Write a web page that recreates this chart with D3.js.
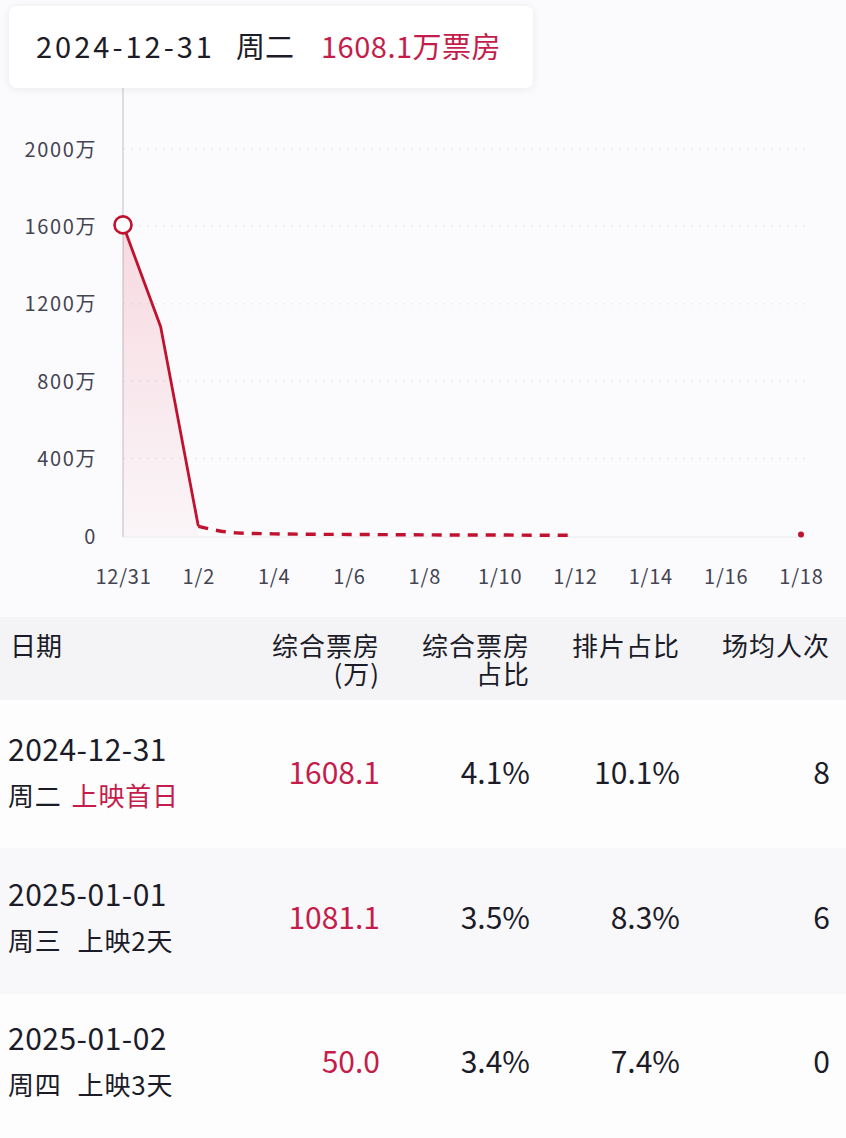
<!DOCTYPE html>
<html><head><meta charset="utf-8">
<script src="https://cdn.jsdelivr.net/npm/d3@7"></script>
<style>
html,body{margin:0;padding:0;background:#fbfbfd;}
svg{display:block;font-family:"Noto Sans CJK SC","Noto Sans",sans-serif;}
</style></head><body>
<div id="chart"></div>
<script>
// ---- data ----
const solidDates = ["2024-12-31","2025-01-01","2025-01-02"];
const solidValues = [1608.1, 1081.1, 50.0];
const dashedDates = ["2025-01-02","2025-01-03","2025-01-04","2025-01-05","2025-01-06","2025-01-07","2025-01-08","2025-01-09","2025-01-10","2025-01-11","2025-01-12"];
const dashedValues = [50.0, 16, 11, 9, 8, 7, 6, 5, 5, 4, 4];
const lastDates = ["2025-01-18"];
const lastValues = [8];
const yTicks = [0, 400, 800, 1200, 1600, 2000];
const xTickDates = ["2024-12-31","2025-01-02","2025-01-04","2025-01-06","2025-01-08","2025-01-10","2025-01-12","2025-01-14","2025-01-16","2025-01-18"];
const xTickLabels = ["12/31","1/2","1/4","1/6","1/8","1/10","1/12","1/14","1/16","1/18"];

const headerDate = "2024-12-31";
const headerWeekday = "周二";
const headerValue = "1608.1万票房";

const colHeaders1 = ["日期","综合票房","综合票房","排片占比","场均人次"];
const colHeaders2 = ["","(万)","占比","",""];
const rowDates = ["2024-12-31","2025-01-01","2025-01-02"];
const rowWeekdays = ["周二","周三","周四"];
const rowRelease = ["上映首日","上映2天","上映3天"];
const rowBox = ["1608.1","1081.1","50.0"];
const rowBoxShare = ["4.1%","3.5%","3.4%"];
const rowSchedShare = ["10.1%","8.3%","7.4%"];
const rowAvg = ["8","6","0"];

// ---- setup ----
const W = 846, H = 1138;
const RED = "#c0122f", RED_TEXT = "#c41d4b", TXT = "#1c1c28";
const parse = d3.timeParse("%Y-%m-%d");
const svg = d3.select("#chart").append("svg").attr("width", W).attr("height", H);
const defs = svg.append("defs");
const grad = defs.append("linearGradient").attr("id","ag").attr("x1",0).attr("y1",0).attr("x2",0).attr("y2",1);
grad.append("stop").attr("offset","0%").attr("stop-color","#e4415e").attr("stop-opacity",0.18);
grad.append("stop").attr("offset","100%").attr("stop-color","#e4415e").attr("stop-opacity",0.03);
const sh = defs.append("filter").attr("id","sh").attr("x","-10%").attr("y","-30%").attr("width","120%").attr("height","160%");
sh.append("feDropShadow").attr("dx",0).attr("dy",1).attr("stdDeviation",4).attr("flood-color","#000").attr("flood-opacity",0.07);

svg.append("rect").attr("width",W).attr("height",H).attr("fill","#fbfbfd");

const x = d3.scaleTime().domain([parse("2024-12-31"), parse("2025-01-18")]).range([123, 801]);
const y = d3.scaleLinear().domain([0, 2000]).range([536, 149]);

// gridlines
svg.append("g").selectAll("line").data(yTicks.filter(d=>d>0)).join("line")
  .attr("x1",123).attr("x2",805).attr("y1",d=>y(d)).attr("y2",d=>y(d))
  .attr("stroke","#e6e6ec").attr("stroke-width",1).attr("stroke-dasharray","2,6");
// baseline
svg.append("line").attr("x1",123).attr("x2",805).attr("y1",y(0)+1).attr("y2",y(0)+1).attr("stroke","#ececf1");
// y axis line
svg.append("line").attr("x1",123).attr("x2",123).attr("y1",86).attr("y2",y(0)+1).attr("stroke","#c9c9d0").attr("stroke-width",1.2);

// y ticks
const yAxis = d3.axisLeft(y).tickValues(yTicks).tickSize(0).tickPadding(0).tickFormat(d => d===0 ? "0" : d + "万");
const ya = svg.append("g").attr("transform","translate(97,0)").call(yAxis);
ya.select(".domain").remove();
ya.selectAll("text").attr("font-size",20).attr("letter-spacing",1.6).attr("fill","#444452").attr("font-family","'Noto Sans CJK SC',sans-serif").attr("dy","0.35em");

// x ticks
const xAxis = d3.axisBottom(x).tickValues(xTickDates.map(parse)).tickSize(0).tickPadding(0)
  .tickFormat((d,i) => xTickLabels[i]);
const xa = svg.append("g").attr("transform","translate(0,577)").call(xAxis);
xa.select(".domain").remove();
xa.selectAll("text").attr("font-size",20).attr("letter-spacing",0.8).attr("fill","#444452").attr("dy","0.35em").attr("font-family","'Noto Sans CJK SC',sans-serif");

// area + lines
const solid = solidDates.map((d,i)=>({d:parse(d), v:solidValues[i]}));
const dashed = dashedDates.map((d,i)=>({d:parse(d), v:dashedValues[i]}));
const last = lastDates.map((d,i)=>({d:parse(d), v:lastValues[i]}));
const area = d3.area().x(p=>x(p.d)).y0(y(0)).y1(p=>y(p.v));
const line = d3.line().x(p=>x(p.d)).y(p=>y(p.v));
svg.append("path").datum(solid).attr("d",area).attr("fill","url(#ag)");
svg.append("path").datum(solid).attr("d",line).attr("fill","none").attr("stroke",RED).attr("stroke-width",2.8).attr("stroke-linejoin","round");
svg.append("path").datum(dashed).attr("d",d3.line().curve(d3.curveMonotoneX).x(p=>x(p.d)).y(p=>y(p.v)))
  .attr("fill","none").attr("stroke",RED).attr("stroke-width",3.4).attr("stroke-dasharray","10,8");
svg.append("g").selectAll("circle").data(last).join("circle")
  .attr("cx",p=>x(p.d)).attr("cy",p=>y(p.v)).attr("r",3).attr("fill",RED);
svg.append("circle").attr("cx",x(solid[0].d)).attr("cy",y(solid[0].v)).attr("r",8.5)
  .attr("fill","#fff").attr("stroke",RED).attr("stroke-width",2.6);

// header card
svg.append("rect").attr("x",9).attr("y",6).attr("width",524).attr("height",82).attr("rx",8)
  .attr("fill","#fff").attr("filter","url(#sh)");
const ht = svg.append("text").attr("x",36).attr("y",58).attr("font-size",29).attr("fill",TXT);
ht.append("tspan").text(headerDate).attr("letter-spacing",3);
ht.append("tspan").attr("x",236).text(headerWeekday);
ht.append("tspan").attr("x",321).attr("fill",RED_TEXT).attr("letter-spacing",0.5).text(headerValue);

// table
const colRight = [null, 380, 530, 680, 830];
svg.append("rect").attr("x",0).attr("y",617).attr("width",W).attr("height",83).attr("fill","#f4f4f7");
const rowY = [700, 848, 994];
const rowH = [148, 146, 144];
const rowFill = ["#fdfdfe","#f8f8fa","#fdfdfe"];
rowY.forEach((ry,i)=>svg.append("rect").attr("x",0).attr("y",ry).attr("width",W).attr("height",rowH[i]).attr("fill",rowFill[i]));

const hg = svg.append("g").attr("font-size",26).attr("fill",TXT);
colHeaders1.forEach((t,i)=>{
  const tx = hg.append("text").attr("x", i===0?10:colRight[i]).attr("y",656).attr("text-anchor", i===0?"start":"end").attr("letter-spacing", i===0?0:1);
  tx.append("tspan").text(t);
  if (colHeaders2[i]) tx.append("tspan").attr("x", colRight[i]).attr("dy",28).text(colHeaders2[i]);
});

const rowMid = [773, 918, 1062];
rowDates.forEach((d,i)=>{
  const g = svg.append("g").attr("fill",TXT);
  g.append("text").attr("x",8).attr("y",rowMid[i]-12).attr("font-size",30).attr("letter-spacing",0.5).text(d);
  const s = g.append("text").attr("x",8).attr("y",rowMid[i]+33).attr("font-size",26).attr("letter-spacing",0.8);
  s.append("tspan").text(rowWeekdays[i]);
  s.append("tspan").attr("dx", i===0?10:16).attr("fill", i===0?RED_TEXT:TXT).text(rowRelease[i]);
  g.append("text").attr("x",380).attr("y",rowMid[i]+11).attr("text-anchor","end").attr("font-size",30).attr("fill",RED_TEXT).text(rowBox[i]);
  g.append("text").attr("x",530).attr("y",rowMid[i]+11).attr("text-anchor","end").attr("font-size",30).text(rowBoxShare[i]);
  g.append("text").attr("x",680).attr("y",rowMid[i]+11).attr("text-anchor","end").attr("font-size",30).text(rowSchedShare[i]);
  g.append("text").attr("x",830).attr("y",rowMid[i]+11).attr("text-anchor","end").attr("font-size",30).text(rowAvg[i]);
});
</script></body></html>
